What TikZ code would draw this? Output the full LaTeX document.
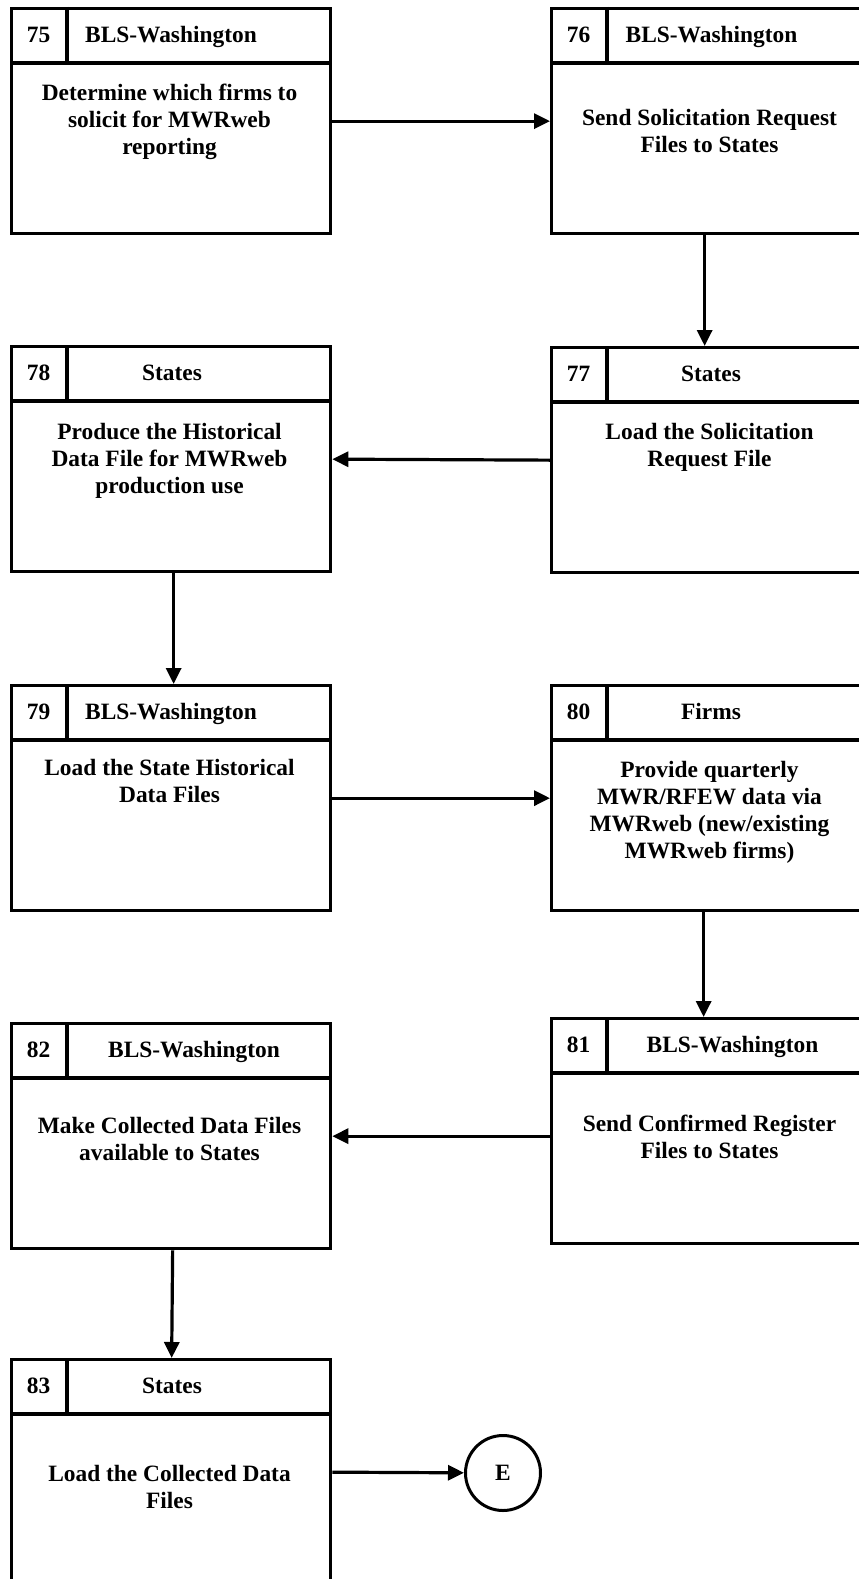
\documentclass[tikz,border=0pt]{standalone}
\usepackage{fontspec}
\setmainfont{Liberation Serif}
\usetikzlibrary{arrows.meta}
\tikzset{
  procbox/.style={draw, line width=3.3pt, minimum width=319pt, minimum height=225pt, anchor=north west, inner sep=0pt},
  boxline/.style={line width=3.3pt},
  headtxt/.style={font=\bfseries\fontsize{23.4}{27}\selectfont, anchor=base, inner sep=0pt},
  bodytxt/.style={font=\bfseries\fontsize{23.4}{27}\selectfont, align=center, anchor=north, inner sep=0pt},
  flow/.style={line width=3.2pt, -{Triangle[length=16pt,width=15pt]}}
}
\begin{document}
\begin{tikzpicture}[x=1pt,y=-1pt]
\useasboundingbox (0,0) rectangle (859,1579);
\clip (0,0) rectangle (859,1579);
\foreach \n/\bx/\by/\hx/\dy/\who/\txt in {
  75/10/7/161/77/{BLS-Washington}/{Determine which firms to\\solicit for MWRweb\\reporting},
  76/550/7/161.5/102/{BLS-Washington}/{Send Solicitation Request\\Files to States},
  77/550/346/161/77/{States}/{Load the Solicitation\\Request File},
  78/10/345/162/78/{States}/{Produce the Historical\\Data File for MWRweb\\production use},
  79/10/684/161/75/{BLS-Washington}/{Load the State Historical\\Data Files},
  80/550/684/161/77/{Firms}/{Provide quarterly\\MWR/RFEW data via\\MWRweb (new/existing\\MWRweb firms)},
  81/550/1017/182.5/98/{BLS-Washington}/{Send Confirmed Register\\Files to States},
  82/10/1022/184/95/{BLS-Washington}/{Make Collected Data Files\\available to States},
  83/10/1358/162/107/{States}/{Load the Collected Data\\Files}}{
  \node[procbox] (b\n) at (\bx,\by) {};
  \draw[boxline] (\bx,\by+56) -- (\bx+319,\by+56);
  \draw[boxline] (\bx+57,\by) -- (\bx+57,\by+56);
  \node[headtxt] (n\n) at (\bx+28.5,\by+35.6) {\n};
  \node[headtxt] (w\n) at (\bx+\hx,\by+35.6) {\who};
  \node[bodytxt] (t\n) at (\bx+159.5,\by+\dy) {\txt};
}
\node[draw, circle, line width=3pt, minimum size=75pt, inner sep=0pt, font=\bfseries\fontsize{23.4}{27}\selectfont] (e) at (503,1473) {E};
\draw[flow] (b75) -- (b76);
\draw[flow] ([xshift=-6.5pt]b76.south) -- ([xshift=-6.5pt]b77.north);
\draw[flow] (b77.west) -- (b78.east);
\draw[flow] ([xshift=2.5pt]b78.south) -- ([xshift=2.5pt]b79.north);
\draw[flow] (b79) -- (b80);
\draw[flow] ([xshift=-7.5pt]b80.south) -- ([xshift=-7.5pt]b81.north);
\draw[flow] (b82.east -| b81.west) -- (b82.east);
\draw[flow] ([xshift=1.5pt]b82.south) -- ([xshift=0.5pt]b83.north);
\draw[flow] (b83.east) -- (e);
\end{tikzpicture}
\end{document}
